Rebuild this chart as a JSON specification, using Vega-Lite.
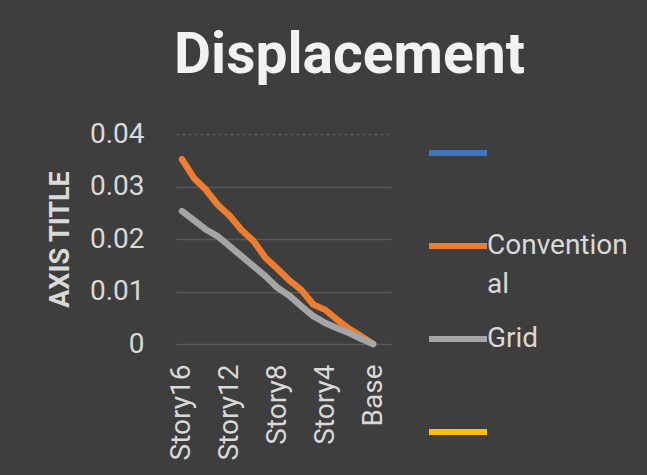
{
  "$schema": "https://vega.github.io/schema/vega-lite/v6.json",
  "width": 215,
  "height": 210,
  "autosize": {"type": "none"},
  "padding": {"left": 176, "top": 134, "right": 256, "bottom": 131},
  "background": "#3e3e3e",
  "config": {"view": {"stroke": null}, "style": {"guide-label": {"lineHeight": 39}}},
  "title": {
    "text": "Displacement",
    "font": "Roboto",
    "fontSize": 57,
    "fontWeight": "bold",
    "color": "#f2f2f2",
    "anchor": "middle",
    "frame": "group",
    "dx": 66,
    "dy": 55,
    "baseline": "alphabetic",
    "offset": 45
  },
  "data": {
    "values": [
      {"story": "Story16", "level": 16, "series": "Conventional", "value": 0.0352},
      {"story": "Story15", "level": 15, "series": "Conventional", "value": 0.0316},
      {"story": "Story14", "level": 14, "series": "Conventional", "value": 0.0294},
      {"story": "Story13", "level": 13, "series": "Conventional", "value": 0.0265},
      {"story": "Story12", "level": 12, "series": "Conventional", "value": 0.0244},
      {"story": "Story11", "level": 11, "series": "Conventional", "value": 0.0217},
      {"story": "Story10", "level": 10, "series": "Conventional", "value": 0.0196},
      {"story": "Story9", "level": 9, "series": "Conventional", "value": 0.0164},
      {"story": "Story8", "level": 8, "series": "Conventional", "value": 0.0143},
      {"story": "Story7", "level": 7, "series": "Conventional", "value": 0.0121},
      {"story": "Story6", "level": 6, "series": "Conventional", "value": 0.0103},
      {"story": "Story5", "level": 5, "series": "Conventional", "value": 0.0075},
      {"story": "Story4", "level": 4, "series": "Conventional", "value": 0.0065},
      {"story": "Story3", "level": 3, "series": "Conventional", "value": 0.0046},
      {"story": "Story2", "level": 2, "series": "Conventional", "value": 0.0029},
      {"story": "Story1", "level": 1, "series": "Conventional", "value": 0.0015},
      {"story": "Base", "level": 0, "series": "Conventional", "value": 0},
      {"story": "Story16", "level": 16, "series": "Grid", "value": 0.0253},
      {"story": "Story15", "level": 15, "series": "Grid", "value": 0.0236},
      {"story": "Story14", "level": 14, "series": "Grid", "value": 0.0218},
      {"story": "Story13", "level": 13, "series": "Grid", "value": 0.0205},
      {"story": "Story12", "level": 12, "series": "Grid", "value": 0.0186},
      {"story": "Story11", "level": 11, "series": "Grid", "value": 0.0167},
      {"story": "Story10", "level": 10, "series": "Grid", "value": 0.0148},
      {"story": "Story9", "level": 9, "series": "Grid", "value": 0.0129},
      {"story": "Story8", "level": 8, "series": "Grid", "value": 0.0107},
      {"story": "Story7", "level": 7, "series": "Grid", "value": 0.0092},
      {"story": "Story6", "level": 6, "series": "Grid", "value": 0.0072},
      {"story": "Story5", "level": 5, "series": "Grid", "value": 0.0053},
      {"story": "Story4", "level": 4, "series": "Grid", "value": 0.004},
      {"story": "Story3", "level": 3, "series": "Grid", "value": 0.003},
      {"story": "Story2", "level": 2, "series": "Grid", "value": 0.0021},
      {"story": "Story1", "level": 1, "series": "Grid", "value": 0.001},
      {"story": "Base", "level": 0, "series": "Grid", "value": 0}
    ]
  },
  "mark": {"type": "line", "strokeWidth": 6.5, "strokeCap": "round", "strokeJoin": "round"},
  "encoding": {
    "x": {
      "field": "story",
      "type": "ordinal",
      "scale": {
        "type": "point",
        "padding": 0.5,
        "domain": ["Story16", "Story15", "Story14", "Story13", "Story12", "Story11", "Story10", "Story9", "Story8", "Story7", "Story6", "Story5", "Story4", "Story3", "Story2", "Story1", "Base", " "]
      },
      "axis": {
        "title": null,
        "domain": false,
        "ticks": false,
        "grid": false,
        "labelAngle": -90,
        "labelOverlap": false,
        "labelPadding": 20,
        "labelFont": "Roboto",
        "labelFontSize": 28,
        "labelColor": "#d9d9d9",
        "labelExpr": "indexof(['Story16','Story12','Story8','Story4','Base'], datum.value) >= 0 ? datum.value : ''"
      }
    },
    "y": {
      "field": "value",
      "type": "quantitative",
      "scale": {"domain": [0, 0.04], "nice": false},
      "axis": {
        "title": "AXIS TITLE",
        "titleFont": "Roboto",
        "titleFontWeight": "bold",
        "titleFontSize": 27,
        "titleColor": "#d9d9d9",
        "titlePadding": 15,
        "values": [0, 0.01, 0.02, 0.03, 0.04],
        "format": "~g",
        "domain": false,
        "ticks": false,
        "labelPadding": 32,
        "labelFont": "Roboto",
        "labelFontSize": 28,
        "labelColor": "#d9d9d9",
        "gridColor": "#595959",
        "gridWidth": 1.3,
        "gridDash": {"condition": {"test": "datum.value == 0.04", "value": [3, 3]}, "value": []}
      }
    },
    "color": {
      "field": "series",
      "type": "nominal",
      "scale": {
        "domain": ["S1", "Conventional", "Grid", "S4"],
        "range": ["#4472C4", "#ED7D31", "#A5A5A5", "#FFC000"]
      },
      "legend": {
        "orient": "none",
        "legendX": 250,
        "legendY": -13,
        "title": null,
        "symbolType": "stroke",
        "symbolSize": 3364,
        "symbolStrokeWidth": 6,
        "labelFont": "Roboto",
        "labelFontSize": 28,
        "labelColor": "#d9d9d9",
        "labelOffset": -3,
        "labelLimit": 300,
        "rowPadding": 8,
        "labelExpr": "datum.value == 'Conventional' ? ['Convention', 'al'] : datum.value == 'Grid' ? ['Grid', ' '] : [' ', ' ']",
        "encoding": {"labels": {"update": {"lineHeight": {"value": 39}}}}
      }
    },
    "order": {"field": "level", "sort": "descending"}
  }
}
